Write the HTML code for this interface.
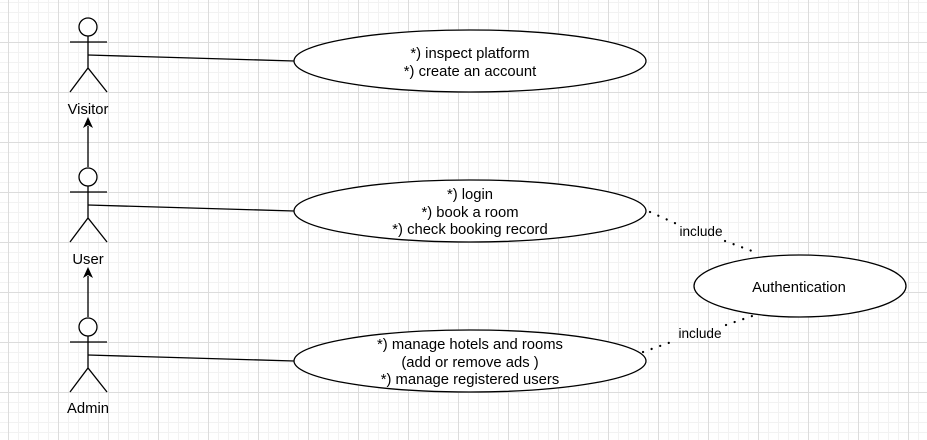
<!DOCTYPE html>
<html><head><meta charset="utf-8"><style>html,body{margin:0;padding:0;background:#fff}svg{display:block}</style></head>
<body>
<svg width="927" height="440" viewBox="0 0 927 440" xmlns="http://www.w3.org/2000/svg" font-family="Liberation Sans, sans-serif">
<defs>
<pattern id="minor" x="8" y="2" width="10" height="10" patternUnits="userSpaceOnUse">
<path d="M0 0.5H10M0.5 0V10" stroke="#f2f2f2" stroke-width="1" fill="none"/></pattern>
<pattern id="major" x="8" y="42" width="50" height="50" patternUnits="userSpaceOnUse">
<path d="M0 0.5H50M0.5 0V50" stroke="#dcdcdc" stroke-width="1" fill="none"/></pattern>
</defs>
<rect width="927" height="440" fill="#fff"/>
<rect width="927" height="440" fill="url(#minor)"/>
<rect width="927" height="440" fill="url(#major)"/>
<g stroke="#000" stroke-width="1.3" fill="#fff">
<circle cx="88" cy="27" r="9"/>
<path d="M88 36V68M70 42H107M70 92L88 68L107 92" fill="none"/>
<circle cx="88" cy="177" r="9"/>
<path d="M88 186V218M70 192H107M70 242L88 218L107 242" fill="none"/>
<circle cx="88" cy="327" r="9"/>
<path d="M88 336V368M70 342H107M70 392L88 368L107 392" fill="none"/>
<path d="M88 55L294 61M88 205L294 211M88 355L294 361" fill="none"/>
<path d="M88 167V126M88 317V276" fill="none"/>
<ellipse cx="470" cy="61" rx="176" ry="31"/>
<ellipse cx="470" cy="211" rx="176" ry="31"/>
<ellipse cx="470" cy="361" rx="176" ry="31"/>
<ellipse cx="800" cy="286" rx="106" ry="31"/>
</g>
<path d="M88 117L83 128L88 125L93 128Z M88 267L83 278L88 275L93 278Z" fill="#000"/>
<g stroke="#000" stroke-width="2.2" stroke-dasharray="0.1 9" stroke-linecap="round" fill="none">
<path d="M650 212L677 224M725 241L752 251"/>
<path d="M643 352L674 341M726 325L758 314"/>
</g>
<g font-size="14.8" fill="#000" text-anchor="middle">
<text x="470" y="58">*) inspect platform</text>
<text x="470" y="76">*) create an account</text>
<text x="470" y="199">*) login</text>
<text x="470" y="217">*) book a room</text>
<text x="470" y="234">*) check booking record</text>
<text x="470" y="349">*) manage hotels and rooms</text>
<text x="470" y="367">(add or remove ads )</text>
<text x="470" y="384">*) manage registered users</text>
<text x="799" y="292">Authentication</text>
<text x="88" y="114">Visitor</text>
<text x="88" y="264">User</text>
<text x="88" y="413">Admin</text>
<text x="701" y="236" font-size="13.6">include</text>
<text x="700" y="338" font-size="13.6">include</text>
</g>
</svg>
</body></html>
